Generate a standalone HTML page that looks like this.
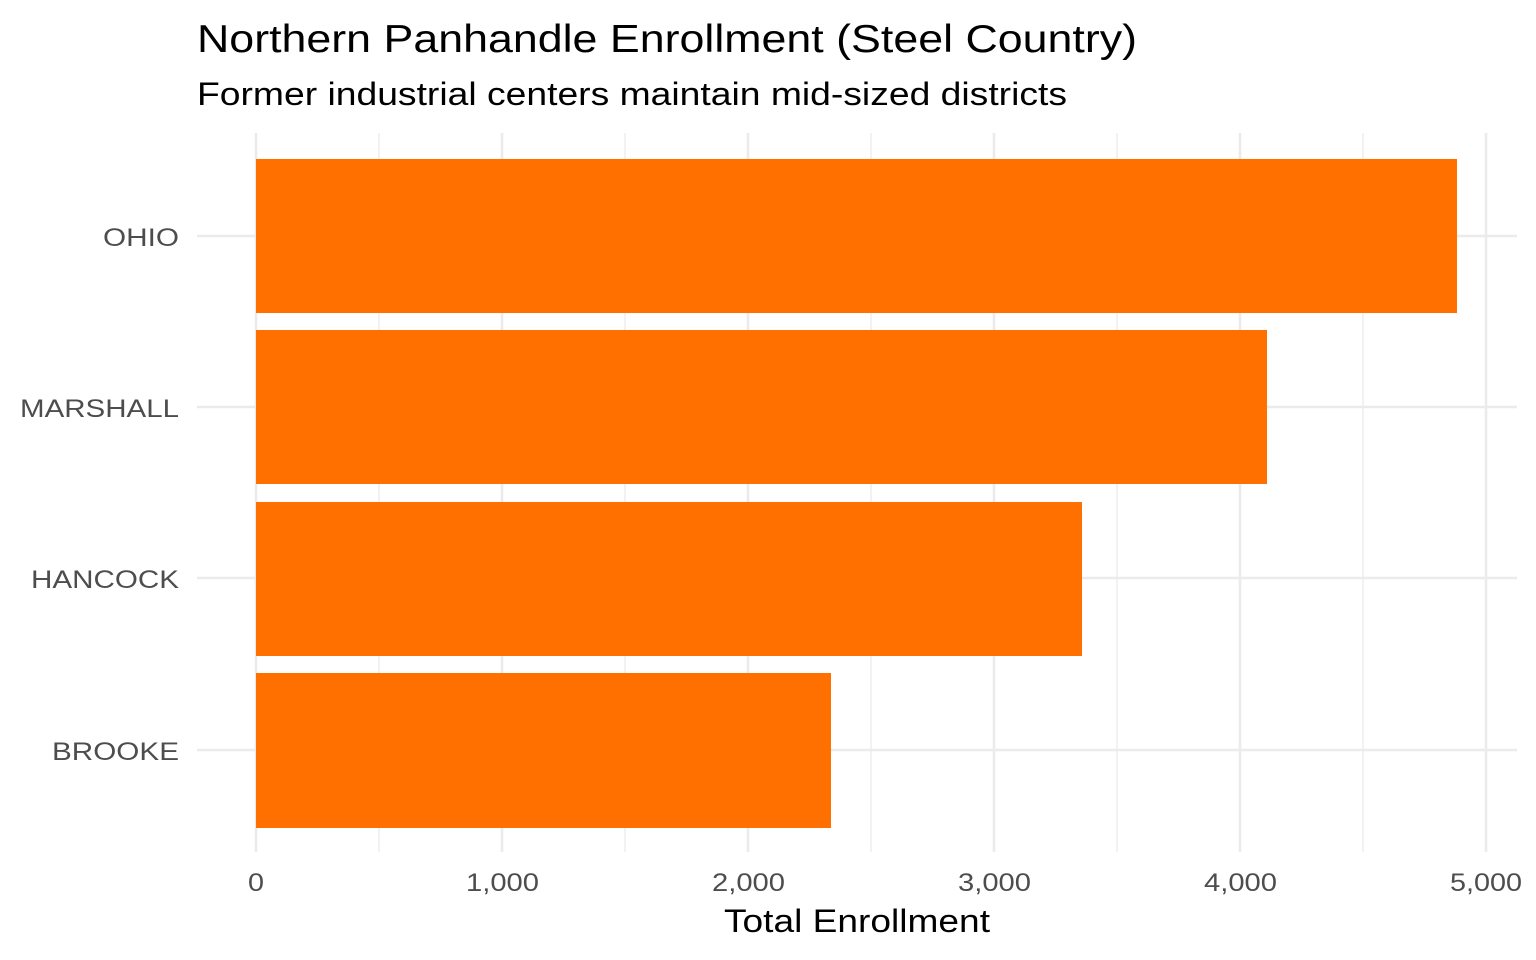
<!DOCTYPE html>
<html><head><style>body{margin:0;background:#fff}svg{display:block}text{font-family:"Liberation Sans",sans-serif}</style></head>
<body>
<svg width="1536" height="960" xmlns="http://www.w3.org/2000/svg">
<rect width="1536" height="960" fill="#fff"/>
<g stroke="#ebebeb" stroke-width="1.3">
<line x1="379" y1="133" x2="379" y2="852"/><line x1="625" y1="133" x2="625" y2="852"/><line x1="871" y1="133" x2="871" y2="852"/><line x1="1117" y1="133" x2="1117" y2="852"/><line x1="1363" y1="133" x2="1363" y2="852"/>
</g>
<g stroke="#ebebeb" stroke-width="2.6">
<line x1="256" y1="133" x2="256" y2="852"/><line x1="502" y1="133" x2="502" y2="852"/><line x1="748" y1="133" x2="748" y2="852"/><line x1="994" y1="133" x2="994" y2="852"/><line x1="1240" y1="133" x2="1240" y2="852"/><line x1="1486" y1="133" x2="1486" y2="852"/>
<line x1="197" y1="236" x2="1517" y2="236"/><line x1="197" y1="407" x2="1517" y2="407"/><line x1="197" y1="578" x2="1517" y2="578"/><line x1="197" y1="750" x2="1517" y2="750"/>
</g>
<g fill="#ff7000">
<rect x="256" y="159" width="1201" height="154"/>
<rect x="256" y="330" width="1011" height="154"/>
<rect x="256" y="502" width="826" height="154"/>
<rect x="256" y="673" width="575" height="155"/>
</g>
<g fill="#4d4d4d" font-size="25" lengthAdjust="spacingAndGlyphs">
<text x="103" y="246" textLength="76" lengthAdjust="spacingAndGlyphs">OHIO</text>
<text x="20" y="417" textLength="159" lengthAdjust="spacingAndGlyphs">MARSHALL</text>
<text x="31" y="588" textLength="148" lengthAdjust="spacingAndGlyphs">HANCOCK</text>
<text x="52" y="760" textLength="127" lengthAdjust="spacingAndGlyphs">BROOKE</text>
</g>
<g fill="#4d4d4d" font-size="25">
<text x="248" y="891" textLength="16" lengthAdjust="spacingAndGlyphs">0</text>
<text x="466" y="891" textLength="73" lengthAdjust="spacingAndGlyphs">1,000</text>
<text x="712" y="891" textLength="73" lengthAdjust="spacingAndGlyphs">2,000</text>
<text x="958" y="891" textLength="73" lengthAdjust="spacingAndGlyphs">3,000</text>
<text x="1204" y="891" textLength="73" lengthAdjust="spacingAndGlyphs">4,000</text>
<text x="1450" y="891" textLength="72" lengthAdjust="spacingAndGlyphs">5,000</text>
</g>
<text x="724" y="932" font-size="32" fill="#000" textLength="266" lengthAdjust="spacingAndGlyphs">Total Enrollment</text>
<text x="197" y="52" font-size="39" fill="#000" textLength="940" lengthAdjust="spacingAndGlyphs">Northern Panhandle Enrollment (Steel Country)</text>
<text x="197" y="105" font-size="32" fill="#000" textLength="870" lengthAdjust="spacingAndGlyphs">Former industrial centers maintain mid-sized districts</text>
</svg>
</body></html>
